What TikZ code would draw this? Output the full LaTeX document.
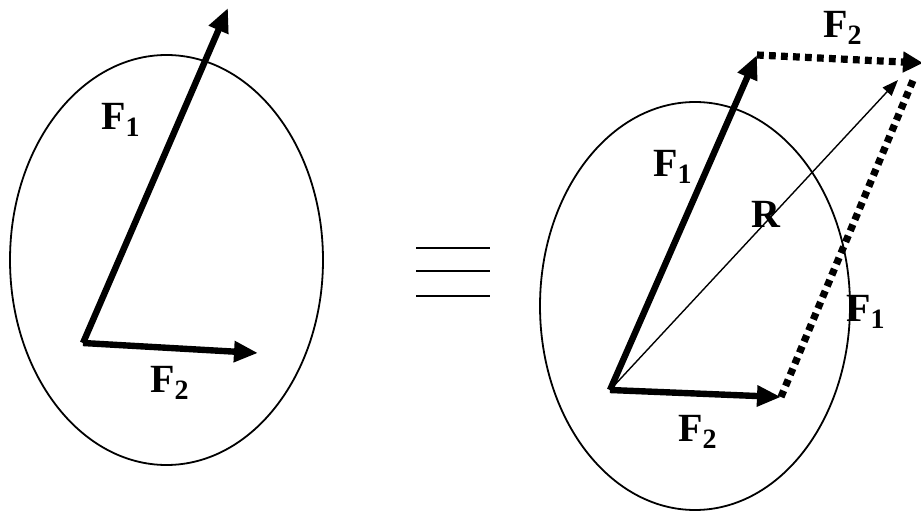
\documentclass[tikz,border=0pt]{standalone}
\usepackage{fontspec}
\setmainfont{Liberation Serif}
\usetikzlibrary{arrows.meta}
\tikzset{
  body/.style={draw, line width=0.9pt},
  force/.style={-{Triangle[length=12pt,width=10pt]}, line width=3.2pt},
  ghost/.style={-{Triangle[length=10pt,width=10pt]}, line width=3.6pt,
                dash pattern=on 3.4pt off 2.6pt},
  result/.style={-{Triangle[length=8pt,width=6pt]}, line width=0.7pt},
  flab/.style={font=\fontsize{20}{24}\selectfont\bfseries, inner sep=0pt},
  eqline/.style={line width=0.6pt},
}
\begin{document}
\begin{tikzpicture}[x=0.5pt, y=-0.5pt]
\useasboundingbox (0,0) rectangle (921,513);

% left body
\draw[body] (166.5,260) ellipse [x radius=156.5, y radius=205];
\coordinate (lo) at (83,343);
\coordinate (l1) at (228,8);
\coordinate (l2) at (258,353);
\draw[force] (lo) -- (l1);
\draw[force] (lo) -- (l2);
\node[flab] (lf1) at (121,120) {F\textsubscript{1}};
\node[flab] (lf2) at (170,383) {F\textsubscript{2}};

% equivalence sign
\foreach \y in {248,271,296} {
    \draw[eqline] (416,\y) -- (490,\y);
}

% right body
\draw[body] (695,306) ellipse [x radius=155, y radius=204];
\coordinate (ro) at (610,390);
\coordinate (r1) at (757,55);
\coordinate (r2) at (781,397);
\coordinate (rr) at (923,63);
\coordinate (rd) at (914,78);
\coordinate (rt) at (898,80);
\draw[ghost] (r1) -- (rr);
\draw[ghost, -] (r2) -- (rd);
\draw[result] (ro) -- (rt);
\draw[force] (ro) -- (r1);
\draw[force] (ro) -- (r2);
\node[flab] (rf1) at (673,167) {F\textsubscript{1}};
\node[flab] (rR) at (766,214) {R};
\node[flab] (rf2) at (843,28) {F\textsubscript{2}};
\node[flab] (rf1b) at (866,312) {F\textsubscript{1}};
\node[flab] (rf2b) at (698,432) {F\textsubscript{2}};

\end{tikzpicture}
\end{document}
